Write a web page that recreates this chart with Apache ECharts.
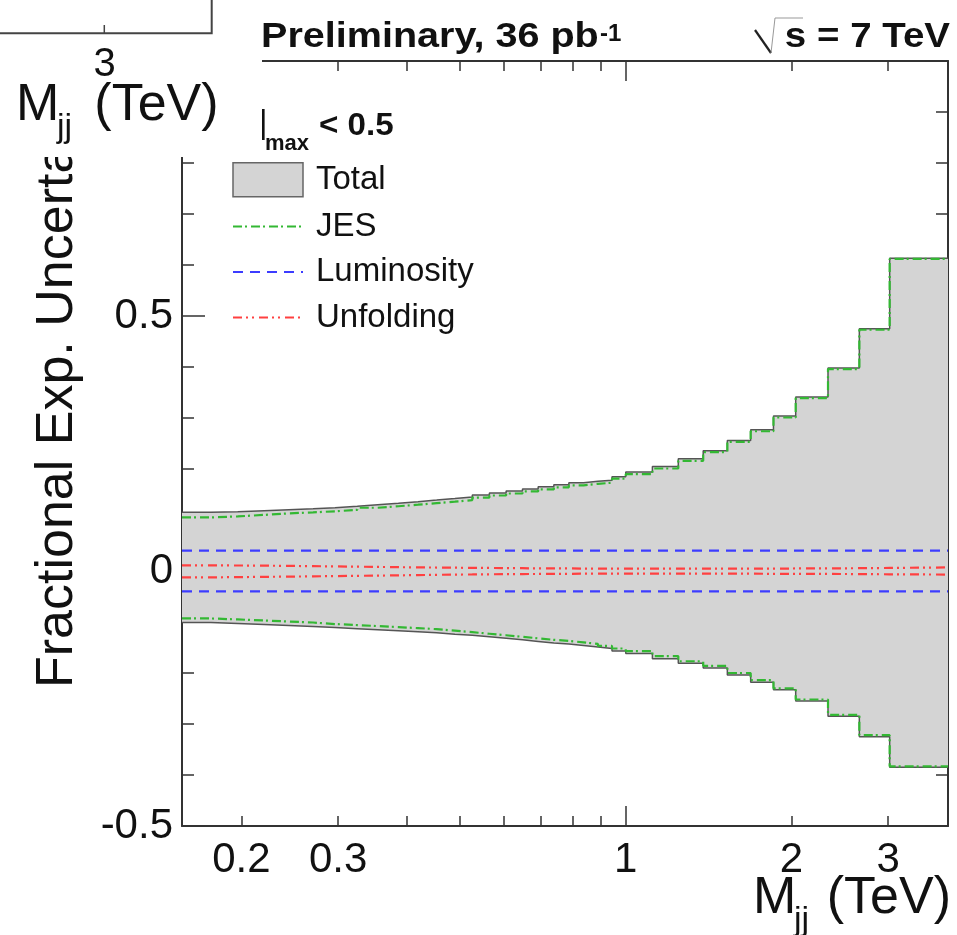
<!DOCTYPE html>
<html><head><meta charset="utf-8">
<script src="https://cdn.jsdelivr.net/npm/echarts@6/dist/echarts.min.js"></script>
<style>html,body{margin:0;padding:0;background:#fff}#c{width:957px;height:935px}</style>
</head><body><div id="c"></div>
<script>
// ---- data ----
const binEdges = [0.156,0.176,0.197,0.220,0.244,0.270,0.296,0.325,0.354,0.386,0.419,0.453,0.489,0.526,0.565,0.606,0.649,0.693,0.740,0.788,0.838,0.890,0.944,1.000,1.118,1.246,1.383,1.530,1.687,1.856,2.037,2.332,2.659,3.019,3.854];
const totalUp = [0.115,0.116,0.118,0.120,0.122,0.124,0.127,0.130,0.133,0.136,0.139,0.142,0.145,0.149,0.153,0.157,0.161,0.165,0.169,0.173,0.176,0.178,0.185,0.194,0.205,0.220,0.236,0.256,0.277,0.304,0.341,0.398,0.475,0.613];
const totalDown = [-0.101,-0.103,-0.105,-0.107,-0.109,-0.111,-0.113,-0.115,-0.117,-0.119,-0.121,-0.124,-0.126,-0.129,-0.132,-0.135,-0.138,-0.141,-0.143,-0.146,-0.149,-0.152,-0.157,-0.162,-0.172,-0.181,-0.190,-0.204,-0.218,-0.233,-0.255,-0.285,-0.325,-0.385];
const jesUp = [0.105,0.107,0.110,0.113,0.115,0.117,0.120,0.124,0.127,0.130,0.133,0.136,0.139,0.144,0.148,0.152,0.156,0.160,0.164,0.168,0.171,0.173,0.181,0.190,0.201,0.216,0.233,0.253,0.274,0.301,0.339,0.396,0.473,0.612];
const jesDown = [-0.093,-0.095,-0.097,-0.099,-0.101,-0.104,-0.106,-0.108,-0.110,-0.112,-0.114,-0.117,-0.120,-0.123,-0.126,-0.129,-0.132,-0.135,-0.137,-0.140,-0.143,-0.147,-0.152,-0.157,-0.167,-0.177,-0.186,-0.200,-0.214,-0.230,-0.252,-0.282,-0.322,-0.383];
const unfUp = [0.011,0.0108,0.0105,0.010,0.0095,0.009,0.0085,0.008,0.0075,0.007,0.0068,0.0065,0.006,0.006,0.0055,0.0055,0.005,0.005,0.005,0.0048,0.0047,0.0046,0.0045,0.0045,0.0045,0.0045,0.0045,0.0045,0.0045,0.005,0.005,0.0055,0.006,0.007];
const unfDown = [-0.0125,-0.012,-0.0115,-0.011,-0.0105,-0.010,-0.0095,-0.009,-0.0085,-0.008,-0.0075,-0.007,-0.0068,-0.0065,-0.006,-0.006,-0.0058,-0.0055,-0.0055,-0.0053,-0.0053,-0.0053,-0.0053,-0.0053,-0.0053,-0.0053,-0.0053,-0.0053,-0.0055,-0.0055,-0.0058,-0.006,-0.0065,-0.007];
const lumiX = [0.156, 3.854];
const lumiUp = [0.04, 0.04];
const lumiDown = [-0.04, -0.04];
const xMinorTicks = [0.2,0.3,0.4,0.5,0.6,0.7,0.8,0.9,2,3];
const xMajorTicks = [1];
const xTickLabels = [0.2,0.3,1,2,3];
const yTickLabels = [-0.5,0,0.5];
const legendNames = ['Total','JES','Luminosity','Unfolding'];

// ---- helpers ----
const FONT = '"Liberation Sans", Arial, Helvetica, sans-serif';
const FRAME = '#333';
const C_FILL = '#d4d4d4', C_EDGE = '#555', C_JES = '#33b833', C_LUMI = '#3c3cff', C_UNF = '#ff4040';
function stepData(edges, vals) {
  const d = vals.map((v, i) => [edges[i], v]);
  d.push([edges[edges.length - 1], vals[vals.length - 1]]);
  return d;
}
function mkX(pos, ticks, len, showLine, showLabels) {
  return {
    type: 'log', logBase: 10, position: pos, gridIndex: 0,
    min: binEdges[0], max: binEdges[binEdges.length - 1],
    axisLine: { show: showLine, onZero: false, lineStyle: { color: FRAME, width: 2 } },
    axisTick: { show: true, inside: true, length: len, customValues: ticks, lineStyle: { color: FRAME, width: 1.5 } },
    axisLabel: { show: showLabels, customValues: xTickLabels, margin: 13, fontSize: 42, fontFamily: FONT, color: '#111',
      formatter: v => String(parseFloat(Number(v).toPrecision(6))) },
    splitLine: { show: false }, minorTick: { show: false }, minorSplitLine: { show: false }
  };
}
function mkY(pos, showLabels) {
  return {
    type: 'value', position: pos, gridIndex: 0, min: -0.5, max: 1.0, interval: 0.5,
    axisLine: { show: true, onZero: false, lineStyle: { color: FRAME, width: 2 } },
    axisTick: { show: true, inside: true, length: 23, lineStyle: { color: FRAME, width: 1.5 } },
    minorTick: { show: true, splitNumber: 5, length: 12, lineStyle: { color: FRAME, width: 1.5 } },
    axisLabel: { show: showLabels, customValues: yTickLabels, margin: 9, fontSize: 42, fontFamily: FONT, color: '#111',
      formatter: v => (Math.abs(v - 1) < 1e-9 ? '' : String(v)) },
    splitLine: { show: false }, minorSplitLine: { show: false }
  };
}
function lineS(name, data, color, width, dash, z) {
  return { name, type: 'line', data, symbol: 'none', silent: true, z,
    lineStyle: { color, width, type: dash }, itemStyle: { color } };
}

const series = [
  { name: 'Total', type: 'line', step: 'end', data: stepData(binEdges, totalUp), symbol: 'none', silent: true, z: 2,
    lineStyle: { color: C_EDGE, width: 1.5 }, areaStyle: { color: C_FILL, opacity: 1, origin: 'auto' }, itemStyle: { color: C_FILL } },
  { name: 'Total', type: 'line', step: 'end', data: stepData(binEdges, totalDown), symbol: 'none', silent: true, z: 2,
    lineStyle: { color: C_EDGE, width: 1.5 }, areaStyle: { color: C_FILL, opacity: 1, origin: 'auto' }, itemStyle: { color: C_FILL } },
  Object.assign(lineS('JES', stepData(binEdges, jesUp), C_JES, 2.2, [9, 3, 2, 4], 3), { step: 'end' }),
  Object.assign(lineS('JES', stepData(binEdges, jesDown), C_JES, 2.2, [9, 3, 2, 4], 3), { step: 'end' }),
  lineS('Luminosity', lumiX.map((x, i) => [x, lumiUp[i]]), C_LUMI, 2.2, [10, 7], 4),
  lineS('Luminosity', lumiX.map((x, i) => [x, lumiDown[i]]), C_LUMI, 2.2, [10, 7], 4),
  Object.assign(lineS('Unfolding', stepData(binEdges, unfUp), C_UNF, 2.2, [9, 4, 2, 4, 2, 5], 5), { step: 'end' }),
  Object.assign(lineS('Unfolding', stepData(binEdges, unfDown), C_UNF, 2.2, [9, 4, 2, 4, 2, 5], 5), { step: 'end' })
];

const txt = (x, y, text, font, opts) => Object.assign({ type: 'text', x, y, silent: true, z: 60,
  style: Object.assign({ text, font, fill: '#111', align: 'left', verticalAlign: 'middle' }, (opts && opts.style) || {}) },
  (opts && opts.el) || {});

const graphics = [
  // y-axis title
  txt(58, 688, 'Fractional Exp. Uncertainty', '52px ' + FONT, { el: { rotation: Math.PI / 2, z: 50 } }),
  // x-axis title
  txt(753, 899, 'M', '52px ' + FONT),
  txt(794, 921, 'jj', '34px ' + FONT),
  txt(951, 899, '(TeV)', '52px ' + FONT, { style: { align: 'right' } }),
  // top labels
  txt(261, 37, 'Preliminary, 36 pb', 'bold 35px ' + FONT, { el: { scaleX: 1.13, z: 110 } }),
  txt(600, 34, '-1', 'bold 24px ' + FONT, { el: { z: 110 } }),
  txt(950, 37, 's = 7 TeV', 'bold 35px ' + FONT, { style: { align: 'right' }, el: { scaleX: 1.1, z: 110 } }),
  { type: 'polyline', silent: true, z: 110, shape: { points: [[755, 30], [771, 53]] }, style: { stroke: '#222', lineWidth: 2.2, fill: null } },
  { type: 'polyline', silent: true, z: 110, shape: { points: [[771, 53], [775, 18], [803, 18]] }, style: { stroke: '#999', lineWidth: 1, fill: null } },
  // legend header |y|max < 0.5
  txt(267.5, 124, '|y|', '33px ' + FONT, { style: { align: 'right' }, el: { z: 50 } }),
  txt(265, 144, 'max', 'bold 22px ' + FONT),
  txt(319, 126, '< 0.5', 'bold 31px ' + FONT, { el: { scaleX: 1.07 } }),
  // overlaid piece of the neighbouring panel (top-left)
  { type: 'rect', silent: true, z: 100, shape: { x: 0, y: 0, width: 262, height: 157 }, style: { fill: '#fff' } },
  { type: 'polyline', silent: true, z: 101, shape: { points: [[0, 33.3], [211.7, 33.3], [211.7, 0]] }, style: { stroke: '#444', lineWidth: 2, fill: null } },
  { type: 'line', silent: true, z: 101, shape: { x1: 104.3, y1: 25, x2: 104.3, y2: 33 }, style: { stroke: '#444', lineWidth: 1.5 } },
  txt(104.5, 64.5, '3', '40px ' + FONT, { style: { align: 'center' }, el: { z: 101 } }),
  txt(16, 106, 'M', '52px ' + FONT, { el: { z: 101 } }),
  txt(57, 128, 'jj', '34px ' + FONT, { el: { z: 101 } }),
  txt(218.6, 106, '(TeV)', '52px ' + FONT, { style: { align: 'right' }, el: { z: 101 } })
];

const chart = echarts.init(document.getElementById('c'), null, { renderer: 'canvas' });
chart.setOption({
  animation: false,
  backgroundColor: '#fff',
  grid: { left: 182, right: 9, top: 61, bottom: 109, containLabel: false, outerBoundsMode: 'none' },
  xAxis: [
    mkX('bottom', xMinorTicks, 10, true, true),
    mkX('bottom', xMajorTicks, 20, false, false),
    mkX('top', xMinorTicks, 10, true, false),
    mkX('top', xMajorTicks, 20, false, false)
  ],
  yAxis: [mkY('left', true), mkY('right', false)],
  legend: {
    orient: 'vertical', left: 232, top: 162, padding: 0, itemWidth: 70, itemHeight: 34, itemGap: 12.5,
    selectedMode: false, z: 20,
    textStyle: { fontSize: 33, fontFamily: FONT, color: '#111', padding: [0, 0, 0, 8] },
    data: [
      { name: legendNames[0], icon: 'rect', itemStyle: { color: C_FILL, borderColor: '#666', borderWidth: 1.5 } },
      { name: legendNames[1], itemStyle: { opacity: 0 } },
      { name: legendNames[2], itemStyle: { opacity: 0 } },
      { name: legendNames[3], itemStyle: { opacity: 0 } }
    ]
  },
  series,
  graphic: { elements: graphics }
});
</script></body></html>
